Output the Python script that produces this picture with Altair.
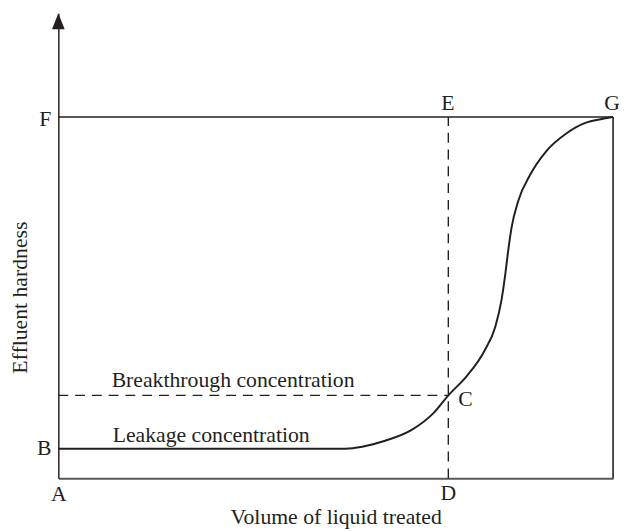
import altair as alt
import pandas as pd

# ---- data (normalised: x = volume fraction, y = hardness relative to F) ----
curve_x = [0.0, 0.25, 0.518, 0.548, 0.589, 0.637, 0.678, 0.703, 0.737, 0.767,
           0.788, 0.799, 0.806, 0.811, 0.817, 0.829, 0.851, 0.879, 0.915,
           0.950, 0.980, 1.0]
curve_y = [0.082, 0.082, 0.082, 0.0874, 0.1038, 0.1339, 0.1831, 0.2295, 0.2842,
           0.3497, 0.4208, 0.4945, 0.5683, 0.6311, 0.6940, 0.7678, 0.8415,
           0.9044, 0.9536, 0.9836, 0.9945, 1.0]

x_max = 1.0
y_top = 1.287          # arrow tip of the y axis
F_level = 1.0          # influent hardness
B_level = 0.082        # leakage concentration
C_level = 0.2295       # breakthrough concentration
D_x = 0.703            # breakthrough volume

INK = "#231f20"
FONT = "Liberation Serif"
FS = 22

xs = alt.Scale(domain=[0, x_max], nice=False, zero=False)
ys = alt.Scale(domain=[0, y_top], nice=False, zero=False)

curve_df = pd.DataFrame({"x": curve_x, "y": curve_y})

curve = alt.Chart(curve_df).mark_line(
    interpolate="monotone", color=INK, strokeWidth=2
).encode(
    x=alt.X("x:Q", scale=xs, axis=alt.Axis(
        title="Volume of liquid treated", labels=False, ticks=False, grid=False,
        domainColor="#58595b", domainWidth=2.2,
        titleFont=FONT, titleFontSize=FS, titleFontWeight="normal",
        titleColor=INK, titleX=281, titleY=46, titleBaseline="alphabetic",
        titleAlign="center")),
    y=alt.Y("y:Q", scale=ys, axis=alt.Axis(
        title="Effluent hardness", labels=False, ticks=False, grid=False,
        domainColor=INK, domainWidth=1.5,
        titleFont=FONT, titleFontSize=FS, titleFontWeight="normal",
        titleColor=INK, titleX=-32.5, titleY=287.5, titleAngle=270,
        titleBaseline="alphabetic", titleAlign="center")),
)

solid_df = pd.DataFrame({
    "x": [0, x_max], "x2": [x_max, x_max],
    "y": [F_level, 0], "y2": [F_level, F_level],
})
solid = alt.Chart(solid_df).mark_rule(color=INK, strokeWidth=1.6).encode(
    x=alt.X("x:Q", scale=xs), x2="x2:Q",
    y=alt.Y("y:Q", scale=ys), y2="y2:Q",
)

dash_df = pd.DataFrame({
    "x": [0, D_x], "x2": [D_x, D_x],
    "y": [C_level, 0], "y2": [C_level, F_level],
})
dashed = alt.Chart(dash_df).mark_rule(
    color=INK, strokeWidth=1.4, strokeDash=[10, 7]
).encode(
    x=alt.X("x:Q", scale=xs), x2="x2:Q",
    y=alt.Y("y:Q", scale=ys), y2="y2:Q",
)

arrow = alt.Chart(pd.DataFrame({"x": [0], "y": [y_top]})).mark_point(
    shape="M0,0L-0.8,2L0.8,2Z", size=256, filled=True, opacity=1,
    color=INK, strokeWidth=0
).encode(x=alt.X("x:Q", scale=xs), y=alt.Y("y:Q", scale=ys))


def label(text, x, y, dx, dy, align):
    return alt.Chart(pd.DataFrame({"x": [x], "y": [y], "t": [text]})).mark_text(
        font=FONT, fontSize=FS, color=INK, align=align,
        baseline="alphabetic", dx=dx, dy=dy
    ).encode(x=alt.X("x:Q", scale=xs), y=alt.Y("y:Q", scale=ys), text="t:N")


labels = [
    label("A", 0, 0, 0.5, 23, "center"),
    label("D", D_x, 0, 0, 22, "center"),
    label("B", 0, B_level, -7, 6.5, "right"),
    label("F", 0, F_level, -7, 9, "right"),
    label("E", D_x, F_level, -0.5, -7, "center"),
    label("G", x_max, F_level, -1, -7, "center"),
    label("C", D_x, C_level, 10, 11, "left"),
    label("Breakthrough concentration", 0, C_level, 54, -8, "left"),
    label("Leakage concentration", 0, B_level, 55, -7, "left"),
]

chart = alt.layer(dashed, solid, curve, arrow, *labels).properties(
    width=562, height=471,
    background="white",
    autosize=alt.AutoSizeParams(type="none"),
    padding={"left": 51, "top": 2, "right": 6, "bottom": 50},
).configure_view(stroke="transparent", strokeWidth=0)

chart.save("out.html", embed_options={"renderer": "svg", "actions": False})
